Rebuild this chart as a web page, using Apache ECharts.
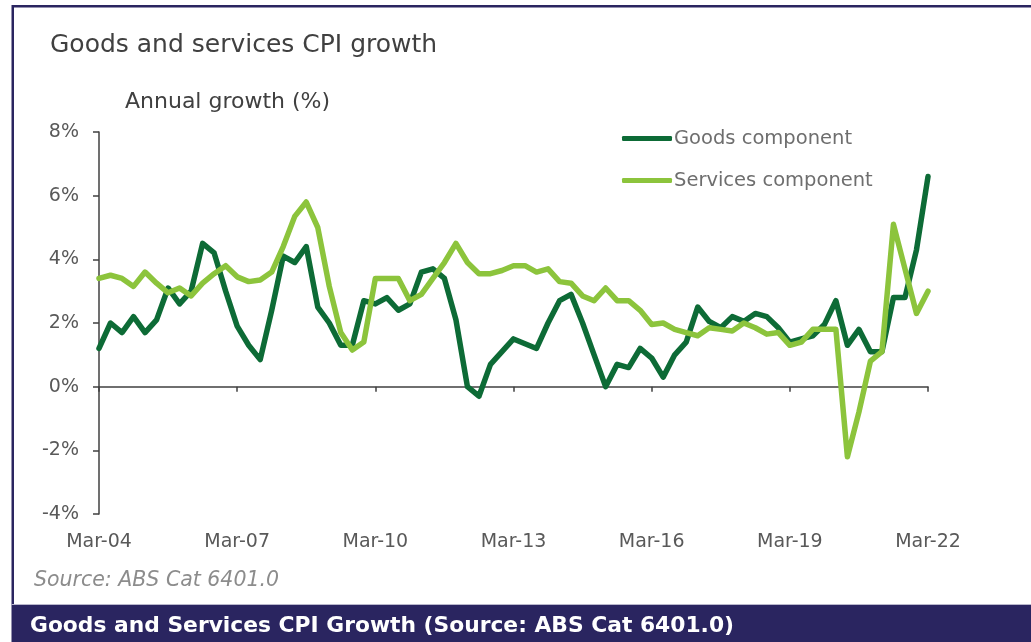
<!DOCTYPE html>
<html>
<head>
<meta charset="utf-8">
<script src="https://cdn.jsdelivr.net/npm/echarts@6/dist/echarts.min.js"></script>
<style>
  html, body { margin: 0; padding: 0; background: #ffffff; }
  #chart { width: 1031px; height: 642px; }
</style>
</head>
<body>
<div id="chart"></div>
<script>
// Quarterly periods, Mar-04 to Mar-22
const years = ['04','05','06','07','08','09','10','11','12','13','14','15','16','17','18','19','20','21','22'];
const months = ['Mar', 'Jun', 'Sep', 'Dec'];

// Annual growth (%) of the goods component of CPI
const goods = [1.2, 2.0, 1.7, 2.2, 1.7, 2.1, 3.1, 2.6, 3.0, 4.5,
               4.2, 3.0, 1.9, 1.3, 0.85, 2.4, 4.1, 3.9, 4.4, 2.5,
               2.0, 1.3, 1.3, 2.7, 2.6, 2.8, 2.4, 2.6, 3.6, 3.7,
               3.4, 2.1, 0.0, -0.3, 0.7, 1.1, 1.5, 1.35, 1.2, 2.0,
               2.7, 2.9, 2.0, 1.0, 0.0, 0.7, 0.6, 1.2, 0.9, 0.3,
               1.0, 1.4, 2.5, 2.05, 1.85, 2.2, 2.05, 2.3, 2.2, 1.85,
               1.4, 1.5, 1.6, 1.95, 2.7, 1.3, 1.8, 1.1, 1.1, 2.8,
               2.8, 4.3, 6.6];

// Annual growth (%) of the services component of CPI
const services = [3.4, 3.5, 3.4, 3.15, 3.6, 3.25, 2.95, 3.1, 2.85, 3.25,
                  3.55, 3.8, 3.45, 3.3, 3.35, 3.6, 4.4, 5.35, 5.8, 5.0,
                  3.15, 1.7, 1.15, 1.4, 3.4, 3.4, 3.4, 2.7, 2.9, 3.4,
                  3.9, 4.5, 3.9, 3.55, 3.55, 3.65, 3.8, 3.8, 3.6, 3.7,
                  3.3, 3.25, 2.85, 2.7, 3.1, 2.7, 2.7, 2.4, 1.95, 2.0,
                  1.8, 1.7, 1.6, 1.85, 1.8, 1.75, 2.0, 1.85, 1.65, 1.7,
                  1.3, 1.4, 1.8, 1.8, 1.8, -2.2, -0.8, 0.8, 1.1, 5.1,
                  3.7, 2.3, 3.0];

// Y-axis range and step (%)
const yMin = -4, yMax = 8, yStep = 2;

// Build quarter labels "Mar-04", "Jun-04", ... ending at "Mar-22"
const categories = [];
years.forEach(function (y, i) {
  months.forEach(function (m) {
    if (i === years.length - 1 && m !== 'Mar') return;
    categories.push(m + '-' + y);
  });
});

const textFont = '"DejaVu Sans", Verdana, sans-serif';
const GOODS_COLOR = '#0d6b36';
const SERV_COLOR = '#8cc43c';
const NAVY = '#2a2560';

const chart = echarts.init(document.getElementById('chart'), null, { renderer: 'canvas' });

const option = {
  backgroundColor: '#ffffff',
  animation: false,
  title: [
    {
      text: 'Goods and services CPI growth',
      left: 45, top: 28,
      textStyle: { fontFamily: textFont, fontSize: 25, fontWeight: 'normal', color: '#404040' }
    },
    {
      text: 'Annual growth (%)',
      left: 120, top: 86,
      textStyle: { fontFamily: textFont, fontSize: 22, fontWeight: 'normal', color: '#404040' }
    },
    {
      text: 'Source: ABS Cat 6401.0',
      left: 29, top: 566,
      textStyle: { fontFamily: textFont, fontSize: 20.5, fontStyle: 'italic', fontWeight: 'normal', color: '#8c8c8c' }
    },
    {
      text: 'Goods and Services CPI Growth (Source: ABS Cat 6401.0)',
      left: 25, top: 610,
      textStyle: { fontFamily: '"DejaVu Sans", sans-serif', fontSize: 21.8, fontWeight: 'bold', color: '#ffffff' }
    }
  ],
  graphic: [
    // outer frame (top and left rules) and footer banner
    { type: 'rect', shape: { x: 12, y: 5, width: 1019, height: 2.5 }, style: { fill: NAVY }, z: 0 },
    { type: 'rect', shape: { x: 11.5, y: 5, width: 2.5, height: 600 }, style: { fill: NAVY }, z: 0 },
    { type: 'rect', shape: { x: 11.5, y: 604, width: 1020, height: 1 }, style: { fill: '#b9b7cc' }, z: 0 },
    { type: 'rect', shape: { x: 11.5, y: 605, width: 1020, height: 37 }, style: { fill: NAVY }, z: 0 }
  ],
  legend: {
    orient: 'vertical',
    left: 617, top: 123,
    itemWidth: 50, itemHeight: 5,
    itemGap: 21,
    icon: 'roundRect',
    data: ['Goods component', 'Services component'],
    textStyle: { fontFamily: textFont, fontSize: 19.5, lineHeight: 21, color: '#6e6e6e', padding: [0, 0, 0, -3] }
  },
  grid: { left: 99, right: 103, top: 132, bottom: 128, containLabel: false },
  xAxis: [
    {
      type: 'category',
      data: categories,
      boundaryGap: false,
      axisLine: { onZero: true, lineStyle: { color: '#404040', width: 1.5 } },
      axisTick: { show: true, interval: 11, length: 5, inside: false, lineStyle: { color: '#404040', width: 1.5 } },
      axisLabel: { show: false }
    },
    {
      type: 'category',
      data: categories,
      position: 'bottom',
      boundaryGap: false,
      axisLine: { show: false, onZero: false },
      axisTick: { show: false },
      axisLabel: {
        show: true, interval: 11, margin: 19,
        fontFamily: textFont, fontSize: 19, color: '#595959'
      }
    }
  ],
  yAxis: {
    type: 'value',
    min: yMin, max: yMax, interval: yStep,
    axisLine: { show: true, lineStyle: { color: '#404040', width: 1.5 } },
    axisTick: { show: true, length: 6, lineStyle: { color: '#404040', width: 1.5 } },
    splitLine: { show: false },
    axisLabel: {
      margin: 20,
      formatter: '{value}%',
      fontFamily: textFont, fontSize: 19, color: '#595959'
    }
  },
  series: [
    {
      name: 'Goods component',
      type: 'line',
      data: goods,
      showSymbol: false,
      symbol: 'none',
      color: GOODS_COLOR,
      lineStyle: { width: 5.5, color: GOODS_COLOR, cap: 'round', join: 'round' },
      z: 3
    },
    {
      name: 'Services component',
      type: 'line',
      data: services,
      showSymbol: false,
      symbol: 'none',
      color: SERV_COLOR,
      lineStyle: { width: 5.5, color: SERV_COLOR, cap: 'round', join: 'round' },
      z: 4
    }
  ]
};

chart.setOption(option);
</script>
</body>
</html>
